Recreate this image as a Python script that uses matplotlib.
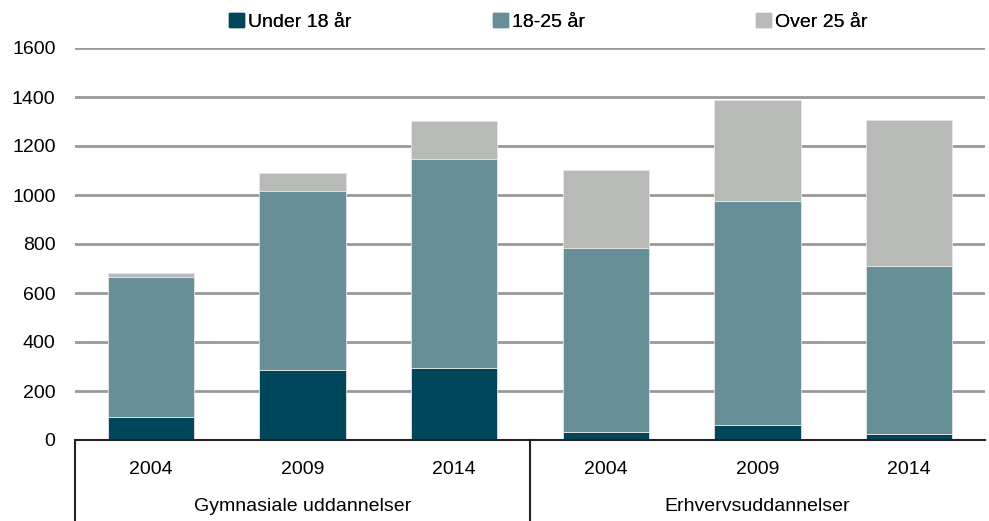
import matplotlib
matplotlib.use("Agg")
import matplotlib.pyplot as plt
from matplotlib.patches import Patch
import numpy as np

plt.rcParams['font.family'] = ['Liberation Sans', 'DejaVu Sans']

groups = ["Gymnasiale uddannelser", "Erhvervsuddannelser"]
years = ["2004", "2009", "2014", "2004", "2009", "2014"]
series_names = ["Under 18 år", "18-25 år", "Over 25 år"]
under18 = [94, 286, 294, 31, 61, 26]
age18_25 = [571, 732, 851, 751, 916, 685]
over25 = [16, 70, 157, 322, 412, 594]
colors = ["#00465a", "#668f98", "#b8bab8"]

fig = plt.figure(figsize=(9.89, 5.21), dpi=100)
ax = fig.add_axes([75/989, 1 - 440/521, 910/989, (440 - 48)/521])

x = np.arange(len(years))
bottom = np.zeros(len(years))
handles = []
for name, vals, c in zip(series_names, [under18, age18_25, over25], colors):
    ax.bar(x, vals, 0.57, bottom=bottom, color=c, edgecolor="#e6e6e6",
           linewidth=0.6, zorder=3, label=name)
    bottom += np.array(vals)
    handles.append(Patch(color=c, label=name))

ax.set_xlim(-0.5, len(years) - 0.5)
ax.set_ylim(0, 1600)
ax.set_yticks(range(0, 1601, 200))
ax.tick_params(axis='y', length=0, labelsize=14, pad=14)
ax.set_xticks([])
ax.grid(axis='y', color="#999999", linewidth=2, zorder=0)
for s in ['top', 'right', 'left']:
    ax.spines[s].set_visible(False)
ax.spines['bottom'].set_color("#222222")
ax.spines['bottom'].set_linewidth(1.5)
ax.spines['bottom'].set_zorder(4)

trans = ax.get_xaxis_transform()
for i, y in enumerate(years):
    ax.text(i, -0.075, y, transform=trans, ha='center', va='center', fontsize=14)
for j, g in enumerate(groups):
    ax.text(3 * j + 1, -0.17, g, transform=trans, ha='center', va='center', fontsize=14)
for xv in [-0.5, 2.5]:
    ax.plot([xv, xv], [0, -0.21], transform=trans, color="#222222",
            linewidth=1.5, clip_on=False)

# one legend entry per box so each sits where the reference has it
for h, lx in zip(handles, [229/989, 493/989, 756/989]):
    leg = fig.legend(handles=[h], loc='center left', bbox_to_anchor=(lx, 0.958),
                     frameon=False, fontsize=14, handlelength=0.75, handleheight=0.75,
                     handletextpad=0.25, borderaxespad=0, borderpad=0)
    fig.add_artist(leg)

fig.savefig("out.png", dpi=100)
